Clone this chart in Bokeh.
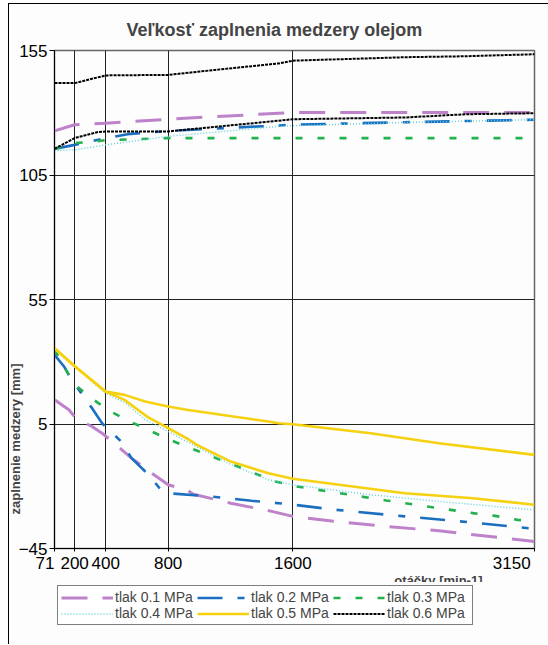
from bokeh.plotting import figure
from bokeh.layouts import column
from bokeh.models import FixedTicker, Legend, LegendItem, Range1d, Title
from bokeh.embed import file_html
from bokeh.resources import INLINE

# ---- axes ----
x_ticks = [71, 200, 400, 800, 1600, 3150]
y_ticks = [-45, 5, 55, 105, 155]

# ---- data (otáčky [min-1], zaplnenie medzery [mm]) ----
# tlak 0.1 MPa
p01_a_x = [71, 200, 400, 800, 1508, 1600, 3150]
p01_a_y = [122.7, 125.2, 125.8, 127.4, 129.8, 130.1, 130.1]
p01_b_x = [71, 163, 211, 312, 376, 453, 565, 709, 800, 918, 962, 1202, 1465, 1600, 1880, 2209, 2537, 3150]
p01_b_y = [14.7, 10.7, 7.1, 4.0, 1.3, -2.7, -8.7, -15.4, -19.4, -21.4, -23.2, -26.8, -30.1, -32.1, -34.2, -36.2, -37.9, -42.2]
# tlak 0.2 MPa
p02_a_x = [71, 200, 400, 540, 800, 1508, 1600, 2318, 3150]
p02_a_y = [115.5, 117.1, 119.8, 121.4, 122.7, 124.9, 125.2, 126.2, 127.2]
p02_b_x = [71, 132, 174, 236, 312, 376, 431, 498, 565, 675, 753, 800, 1071, 1334, 1508, 1600, 1880, 2318, 2756, 3150]
p02_b_y = [32.8, 28.1, 23.4, 18.0, 11.3, 5.3, 2.0, -2.0, -8.7, -15.4, -21.4, -22.8, -24.1, -25.8, -26.8, -27.4, -29.5, -32.1, -34.6, -37.1]
# tlak 0.3 MPa
p03_a_x = [71, 200, 344, 400, 800, 3150]
p03_a_y = [115.5, 117.8, 118.5, 119.0, 119.8, 119.8]
p03_b_x = [71, 163, 203, 279, 352, 442, 553, 664, 775, 885, 1246, 1487, 1626, 1902, 2198, 2461, 2756, 2898, 3040, 3150]
p03_b_y = [34.8, 24.8, 20.8, 16.7, 13.4, 9.7, 6.0, 2.9, -0.4, -3.3, -12.1, -18.1, -20.1, -22.8, -25.7, -28.1, -30.8, -31.9, -33.5, -34.0]
# tlak 0.4 MPa
p04_a_x = [71, 200, 400, 800, 1508, 1600, 2318, 3150]
p04_a_y = [114.7, 115.1, 117.1, 120.5, 124.5, 124.8, 126.1, 127.2]
p04_b_x = [71, 203, 295, 400, 520, 653, 800, 918, 1202, 1443, 1600, 2099, 2537, 3150]
p04_b_y = [34.9, 27.7, 22.9, 17.3, 13.6, 6.8, 2.0, -2.0, -11.3, -17.4, -19.4, -23.4, -26.1, -29.5]
# tlak 0.5 MPa
p05_a_x = [71, 203, 295, 400, 520, 653, 800, 918, 1443, 1508, 1600, 2099, 2537, 3150]
p05_a_y = [35.4, 28.1, 23.4, 18.0, 16.7, 14.0, 12.0, 10.7, 6.0, 5.3, 4.9, 1.3, -2.7, -7.4]
p05_b_x = [71, 203, 295, 400, 520, 664, 800, 918, 984, 1202, 1443, 1600, 2318, 2756, 3150]
p05_b_y = [35.4, 28.1, 23.4, 18.0, 14.7, 8.0, 3.3, -0.7, -3.4, -10.1, -14.8, -17.0, -22.8, -24.8, -27.4]
# tlak 0.6 MPa
p06_a_x = [71, 200, 400, 800, 1100, 1508, 1600, 2318, 2710, 3150]
p06_a_y = [141.9, 141.9, 145.0, 145.2, 147.2, 149.8, 150.9, 152.3, 152.7, 153.5]
p06_b_x = [71, 200, 344, 400, 800, 1508, 1600, 2318, 2710, 3150]
p06_b_y = [115.5, 119.8, 122.2, 122.5, 122.5, 126.8, 127.4, 128.1, 129.4, 129.8]

series = [
    ("tlak 0.1 MPa", [(p01_a_x, p01_a_y), (p01_b_x, p01_b_y)], "#bd82c9", 3.0, "26 15"),
    ("tlak 0.2 MPa", [(p02_a_x, p02_a_y), (p02_b_x, p02_b_y)], "#1a6fc0", 2.6, "25 15 7 15"),
    ("tlak 0.3 MPa", [(p03_a_x, p03_a_y), (p03_b_x, p03_b_y)], "#22b14c", 2.6, "7 15"),
    ("tlak 0.4 MPa", [(p04_a_x, p04_a_y), (p04_b_x, p04_b_y)], "#5cd0dc", 1.4, "1 2"),
    ("tlak 0.5 MPa", [(p05_a_x, p05_a_y), (p05_b_x, p05_b_y)], "#f5d10f", 2.6, "solid"),
    ("tlak 0.6 MPa", [(p06_a_x, p06_a_y), (p06_b_x, p06_b_y)], "#000000", 2.0, "3 1"),
]

BG = "#fdfdfd"

p = figure(frame_width=480, frame_height=498, output_backend="svg", toolbar_location=None,
           x_range=Range1d(71, 3150), y_range=Range1d(-45, 155),
           min_border_left=42, min_border_right=18, min_border_top=46, min_border_bottom=33,
           title="Veľkosť zaplnenia medzery olejom")
p.background_fill_color = BG
p.border_fill_color = BG
p.outline_line_color = "#666666"
p.outline_line_width = 1.5

p.title.align = "left"
p.title.offset = 72
p.title.standoff = 22
p.title.text_font = "Liberation Sans"
p.title.text_font_size = "18px"
p.title.text_font_style = "bold"

p.xaxis.ticker = FixedTicker(ticks=x_ticks)
p.yaxis.ticker = FixedTicker(ticks=y_ticks)
p.xaxis.major_label_overrides = {71: "71\u00a0\u00a0\u00a0\u00a0", 3150: "3150\u00a0\u00a0\u00a0\u00a0"}
for ax in (p.xaxis, p.yaxis):
    ax.axis_line_color = "#000000"
    ax.major_tick_line_color = "#000000"
    ax.major_tick_out = 5
    ax.major_tick_in = 0
    ax.minor_tick_line_color = None
    ax.major_label_text_font = "Liberation Sans"
    ax.major_label_text_font_size = "17px"
    ax.major_label_text_color = "#000000"
    ax.major_label_standoff = 2
p.xaxis.major_tick_out = 3

ylab = Title(text="zaplnenie medzery [mm]", align="left", offset=34, standoff=-15,
             text_font="Liberation Sans", text_font_size="13px", text_font_style="bold")
p.add_layout(ylab, "left")

p.xgrid.ticker = FixedTicker(ticks=x_ticks)
p.ygrid.ticker = FixedTicker(ticks=y_ticks)
p.grid.grid_line_color = "#222222"
p.grid.grid_line_width = 1

xlab = Title(text="otáčky [min-1]", align="right", offset=52, standoff=-10,
             text_font="Liberation Sans", text_font_size="13px", text_font_style="bold")
p.add_layout(xlab, "below")

for label, parts, color, width, dash in series:
    for xs, ys in parts:
        p.line(xs, ys, line_color=color, line_width=width, line_dash=dash)

# ---- legend (separate strip under the chart) ----
lf = figure(width=540, height=62, output_backend="svg", toolbar_location=None,
            x_range=Range1d(0, 1), y_range=Range1d(0, 1),
            min_border_left=45, min_border_right=0, min_border_top=0, min_border_bottom=0)
lf.axis.visible = False
lf.grid.visible = False
lf.outline_line_color = None
lf.background_fill_color = BG
lf.border_fill_color = BG

nan = float("nan")
items = {}
for label, parts, color, width, dash in series:
    r = lf.line(x=[nan], y=[nan], line_color=color, line_width=width, line_dash=dash)
    items[label] = LegendItem(label=label, renderers=[r])

order = ["tlak 0.1 MPa", "tlak 0.4 MPa", "tlak 0.2 MPa", "tlak 0.5 MPa", "tlak 0.3 MPa", "tlak 0.6 MPa"]
legend = Legend(items=[items[k] for k in order], orientation="vertical", ncols=3,
                location="top_left", border_line_color="#000000", border_line_width=1,
                background_fill_color="#ffffff", background_fill_alpha=1.0,
                glyph_width=52, glyph_height=15, label_height=15, label_width=82,
                label_standoff=2, spacing=0, padding=3, margin=3,
                label_text_font="Liberation Sans", label_text_font_size="14px")
lf.add_layout(legend)

layout = column(p, lf, spacing=0, margin=(3, 0, 0, 8),
                styles={"border-left": "1px solid #000", "border-top": "1px solid #000",
                        "background-color": BG})

open("out.html", "w").write(file_html(layout, INLINE))
